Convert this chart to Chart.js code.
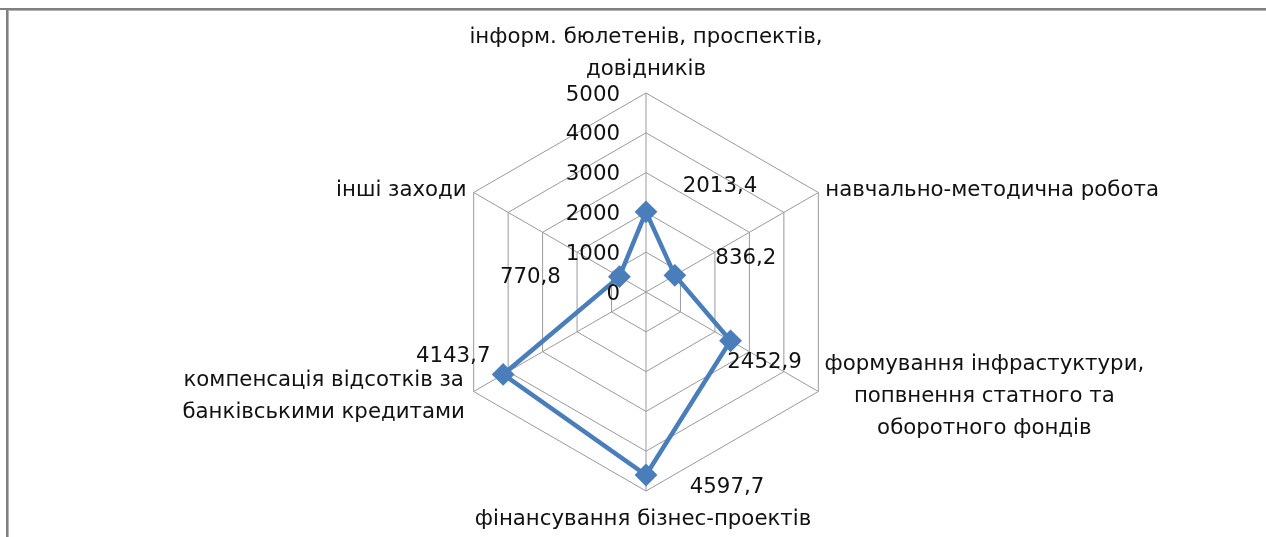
<!DOCTYPE html>
<html>
<head>
<meta charset="utf-8">
<script src="https://cdn.jsdelivr.net/npm/chart.js@4/dist/chart.umd.min.js"></script>
<style>
  html, body { margin: 0; padding: 0; background: #fff; }
  #wrap { position: relative; width: 1266px; height: 537px; }
</style>
</head>
<body>
<div id="wrap"><canvas id="c" width="1266" height="537"></canvas></div>
<script>
// ---- data ----
const categories = [
  ['інформ. бюлетенів, проспектів,', 'довідників'],
  ['навчально-методична робота'],
  ['формування інфрастуктури,', 'попвнення статного та', 'оборотного фондів'],
  ['фінансування бізнес-проектів'],
  ['компенсація відсотків за', 'банківськими кредитами'],
  ['інші заходи']
];
const values = [2013.4, 836.2, 2452.9, 4597.7, 4143.7, 770.8];
const tickValues = [0, 1000, 2000, 3000, 4000, 5000];

// ---- style ----
const FONT = '21.3px "DejaVu Sans"';
const LINE_H = 32;
const blue = '#4a7ebb';
// offsets of value labels from their points (dx, dy)
const valueLabelOffsets = [[74, -25], [71, -17], [34, 22], [81, 12], [-50, -18], [-89, 1]];
// category label placement relative to the outer vertex: dx, dy (first line), align
const catPlacement = [
  {dx: 0, dy: -56, align: 'center'},
  {dx: 7, dy: -2, align: 'left'},
  {dx: 166, dy: -27, align: 'center'},
  {dx: -3, dy: 28, align: 'center'},
  {dx: -150, dy: -11, align: 'center'},
  {dx: -7, dy: -2, align: 'right'}
];

const labelPlugin = {
  id: 'labels',
  afterDatasetsDraw(chart) {
    const ctx = chart.ctx;
    const r = chart.scales.r;
    const meta = chart.getDatasetMeta(0);
    ctx.save();
    ctx.font = FONT;
    ctx.fillStyle = '#111';
    ctx.textBaseline = 'middle';
    // tick labels
    ctx.textAlign = 'right';
    r.ticks.forEach(t => {
      const p = r.getPointPositionForValue(0, t.value);
      ctx.fillText(String(t.value), p.x - 26, p.y + 2);
    });
    // value labels
    ctx.textAlign = 'center';
    meta.data.forEach((pt, i) => {
      const o = valueLabelOffsets[i];
      ctx.fillText(values[i].toFixed(1).replace('.', ','), pt.x + o[0], pt.y + o[1]);
    });
    // category labels
    categories.forEach((lines, i) => {
      const v = r.getPointPositionForValue(i, r.max);
      const pl = catPlacement[i];
      ctx.textAlign = pl.align;
      lines.forEach((ln, k) => {
        ctx.fillText(ln, v.x + pl.dx, v.y + pl.dy + k * LINE_H);
      });
    });
    ctx.restore();
  },
  afterDraw(chart) {
    const ctx = chart.ctx;
    ctx.save();
    ctx.fillStyle = '#fff';
    ctx.fillRect(0, 0, 1266, 8);
    ctx.fillStyle = '#808080';
    ctx.fillRect(0, 8, 1266, 2);
    ctx.fillRect(6, 8, 2, 529);
    ctx.fillStyle = '#b4b4b4';
    ctx.fillRect(8, 10, 1258, 1);
    ctx.fillRect(8, 10, 1, 527);
    ctx.restore();
  }
};

new Chart(document.getElementById('c'), {
  type: 'radar',
  data: {
    labels: categories,
    datasets: [{
      data: values,
      borderColor: blue,
      backgroundColor: blue,
      borderWidth: 4.5,
      fill: false,
      pointStyle: 'rectRot',
      pointRadius: 10,
      pointBorderWidth: 2,
      pointBackgroundColor: blue,
      pointBorderColor: blue,
      tension: 0
    }]
  },
  options: {
    responsive: false,
    animation: false,
    devicePixelRatio: 1,
    layout: { padding: { left: 447, right: 421, top: 93, bottom: 46 } },
    plugins: { legend: { display: false }, tooltip: { enabled: false } },
    scales: {
      r: {
        min: 0,
        max: 5000,
        ticks: { display: false, stepSize: 1000 },
        grid: { color: '#9a9a9a', lineWidth: 1 },
        angleLines: { color: '#9a9a9a', lineWidth: 1 },
        pointLabels: { display: false }
      }
    }
  },
  plugins: [labelPlugin]
});
</script>
</body>
</html>
